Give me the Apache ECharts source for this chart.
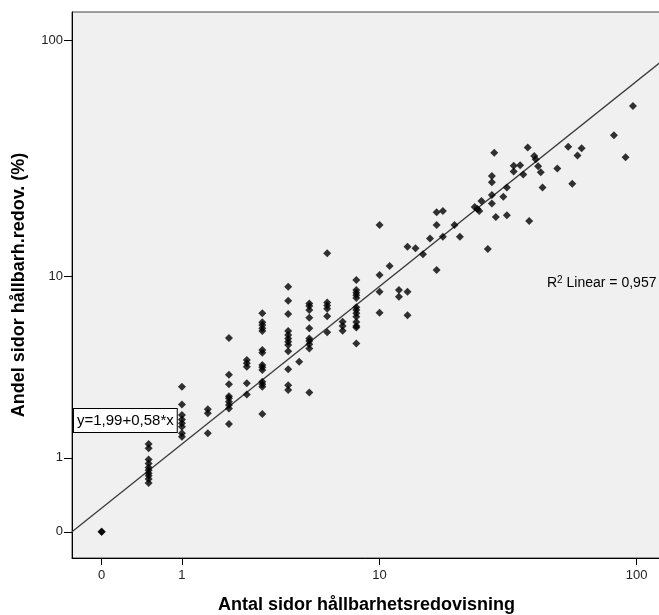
<!DOCTYPE html>
<html>
<head>
<meta charset="utf-8">
<script src="https://cdn.jsdelivr.net/npm/echarts@6/dist/echarts.min.js"></script>
<style>
html,body{margin:0;padding:0;background:#fff;}
#chart{width:659px;height:615px;}
</style>
</head>
<body>
<div id="chart"></div>
<script>
// ---- data (original units) ----
const pages = [
  0, 0,
  0.5, 0.5, 0.5, 0.5, 0.5, 0.5, 0.5, 0.5, 0.5, 0.5,
  1, 1, 1, 1, 1, 1, 1, 1,
  1.5, 1.5, 1.5,
  2, 2, 2, 2, 2, 2, 2, 2, 2,
  2.5, 2.5, 2.5, 2.5, 2.5,
  3, 3, 3, 3, 3, 3, 3, 3, 3, 3, 3, 3, 3, 3,
  4, 4, 4, 4, 4, 4, 4, 4, 4, 4, 4, 4,
  4.5,
  5, 5, 5, 5, 5, 5, 5, 5, 5, 5,
  6, 6, 6, 6, 6, 6,
  7, 7, 7,
  8, 8, 8, 8, 8, 8, 8, 8, 8, 8, 8, 8, 8,
  10, 10, 10, 10,
  11,
  12, 12,
  13, 13, 13,
  14, 15, 16,
  17, 17, 17,
  18, 18,
  20, 21, 24, 24.6, 25, 25.5, 27,
  28, 28, 28, 28,
  28.6, 29, 31,
  32, 32,
  34, 34,
  36, 37, 38.5, 39, 40.8, 41.3, 42.2, 43.2, 43.9,
  50, 55, 57, 59.7, 61.9, 82.1, 90.9, 96.9
];
const share = [
  0, 0,
  1.28, 1.19, 0.97, 0.90, 0.83, 0.78, 0.73, 0.69, 0.64, 0.58,
  2.90, 2.30, 1.99, 1.87, 1.77, 1.68, 1.52, 1.44,
  2.16, 2.04, 1.52,
  5.16, 3.37, 2.99, 2.57, 2.50, 2.39, 2.29, 2.18, 1.75,
  4.01, 3.86, 3.71, 3.03, 2.63,
  6.77, 6.14, 5.96, 5.75, 5.58, 4.51, 4.37, 3.78, 3.68, 3.56, 3.09, 2.99, 2.90, 2.02,
  8.97, 7.74, 6.72, 5.59, 5.34, 5.14, 4.95, 4.77, 4.45, 3.60, 2.96, 2.78,
  3.93,
  7.53, 7.32, 7.01, 6.46, 5.75, 5.14, 4.99, 4.82, 4.59, 2.70,
  12.65, 7.61, 7.37, 7.11, 6.57, 5.50,
  6.18, 5.90, 5.60,
  9.62, 8.67, 8.42, 8.20, 7.97, 7.22, 7.01, 6.77, 6.52, 6.16, 5.90, 5.80, 4.86,
  16.8, 10.13, 8.51, 6.81,
  11.11,
  8.67, 8.08,
  13.52, 8.51, 6.64,
  13.3, 12.52, 14.7,
  19.05, 16.8, 10.67,
  19.3, 14.95,
  16.8, 14.95, 20.1, 19.7, 19.3, 21.3, 13.2,
  27.2, 25.6, 22.6, 20.8,
  34.1, 18.2, 22.2,
  24.35, 18.5,
  30.05, 28.4,
  30.2, 27.6, 35.9, 17.5, 33.0, 32.0, 29.9, 28.2, 24.35,
  29.3, 36.1, 25.2, 33.2, 35.6, 40.4, 32.6, 53.4
];
const tickValues = [0, 1, 10, 100];
const tickLabels = ['0', '1', '10', '100'];
// fitted line in log10(v+1) space: [intercept, slope]
const fitLine = [0.0965, 0.868];
const equationText = 'y=1,99+0,58*x';
const r2Value = '0,957';
const xTitle = 'Antal sidor hållbarhetsredovisning';
const yTitle = 'Andel sidor hållbarh.redov. (%)';

// ---- scale: log10(v + 1) ----
const tf = v => Math.log10(v + 1);
const xMin = -0.111, xMax = 2.096;
const yMin = -0.107, yMax = 2.119;

function labelFor(v) {
  for (let i = 0; i < tickValues.length; i++) {
    if (Math.abs(tf(tickValues[i]) - v) < 1e-6) return tickLabels[i];
  }
  return '';
}

const points = pages.map((x, i) => [tf(x), tf(share[i])]);
const lineData = [
  [xMin, fitLine[0] + fitLine[1] * xMin],
  [xMax, fitLine[0] + fitLine[1] * xMax]
];
const tickPos = tickValues.map(tf);
const FONT = '"Liberation Sans", Arial, sans-serif';

const chart = echarts.init(document.getElementById('chart'), null, {renderer: 'canvas'});
chart.setOption({
  animation: false,
  backgroundColor: '#ffffff',
  grid: {
    left: 72, right: -2, top: 12, bottom: 57,
    show: true, backgroundColor: '#f0f0f0', borderColor: '#444', borderWidth: 1,
    containLabel: false, outerBoundsMode: 'none'
  },
  xAxis: {
    type: 'value', min: xMin, max: xMax,
    name: xTitle, nameLocation: 'middle', nameGap: 38,
    nameTextStyle: {fontFamily: FONT, fontWeight: 'bold', fontSize: 18, color: '#000'},
    axisLine: {show: true, onZero: false, lineStyle: {color: '#000', width: 1}},
    axisTick: {show: true, customValues: tickPos, length: 7, lineStyle: {color: '#000'}},
    axisLabel: {customValues: tickPos, formatter: labelFor, margin: 11,
      fontFamily: FONT, fontSize: 13, color: '#222'},
    splitLine: {show: false}
  },
  yAxis: {
    type: 'value', min: yMin, max: yMax,
    name: yTitle, nameLocation: 'middle', nameGap: 44,
    nameTextStyle: {fontFamily: FONT, fontWeight: 'bold', fontSize: 18, color: '#000'},
    axisLine: {show: true, onZero: false, lineStyle: {color: '#000', width: 1}},
    axisTick: {show: true, customValues: tickPos, length: 8, lineStyle: {color: '#000'}},
    axisLabel: {customValues: tickPos, formatter: labelFor, margin: 9,
      fontFamily: FONT, fontSize: 13, color: '#222'},
    splitLine: {show: false}
  },
  series: [
    {
      type: 'line', data: lineData, symbol: 'none', clip: true, silent: true,
      lineStyle: {color: '#3a3a3a', width: 1.3}, z: 2
    },
    {
      type: 'scatter', data: points, symbol: 'diamond', symbolSize: 8,
      itemStyle: {color: '#000'}, z: 3
    }
  ],
  graphic: [
    {
      type: 'text', left: 73, top: 408, z: 10,
      style: {
        text: equationText, fontFamily: FONT, fontSize: 15, fill: '#000',
        backgroundColor: '#fff', borderColor: '#000', borderWidth: 1,
        padding: [4, 3, 4, 3]
      }
    },
    {
      type: 'text', left: 547, top: 275, z: 10,
      style: {
        text: '{r|R}{s|2}{r| Linear = ' + r2Value + '}',
        fontFamily: FONT, fill: '#000',
        rich: {
          r: {fontFamily: FONT, fontSize: 14, color: '#000'},
          s: {fontFamily: FONT, fontSize: 10, color: '#000', padding: [0, 0, 7, 0]}
        }
      }
    }
  ]
});
</script>
</body>
</html>
